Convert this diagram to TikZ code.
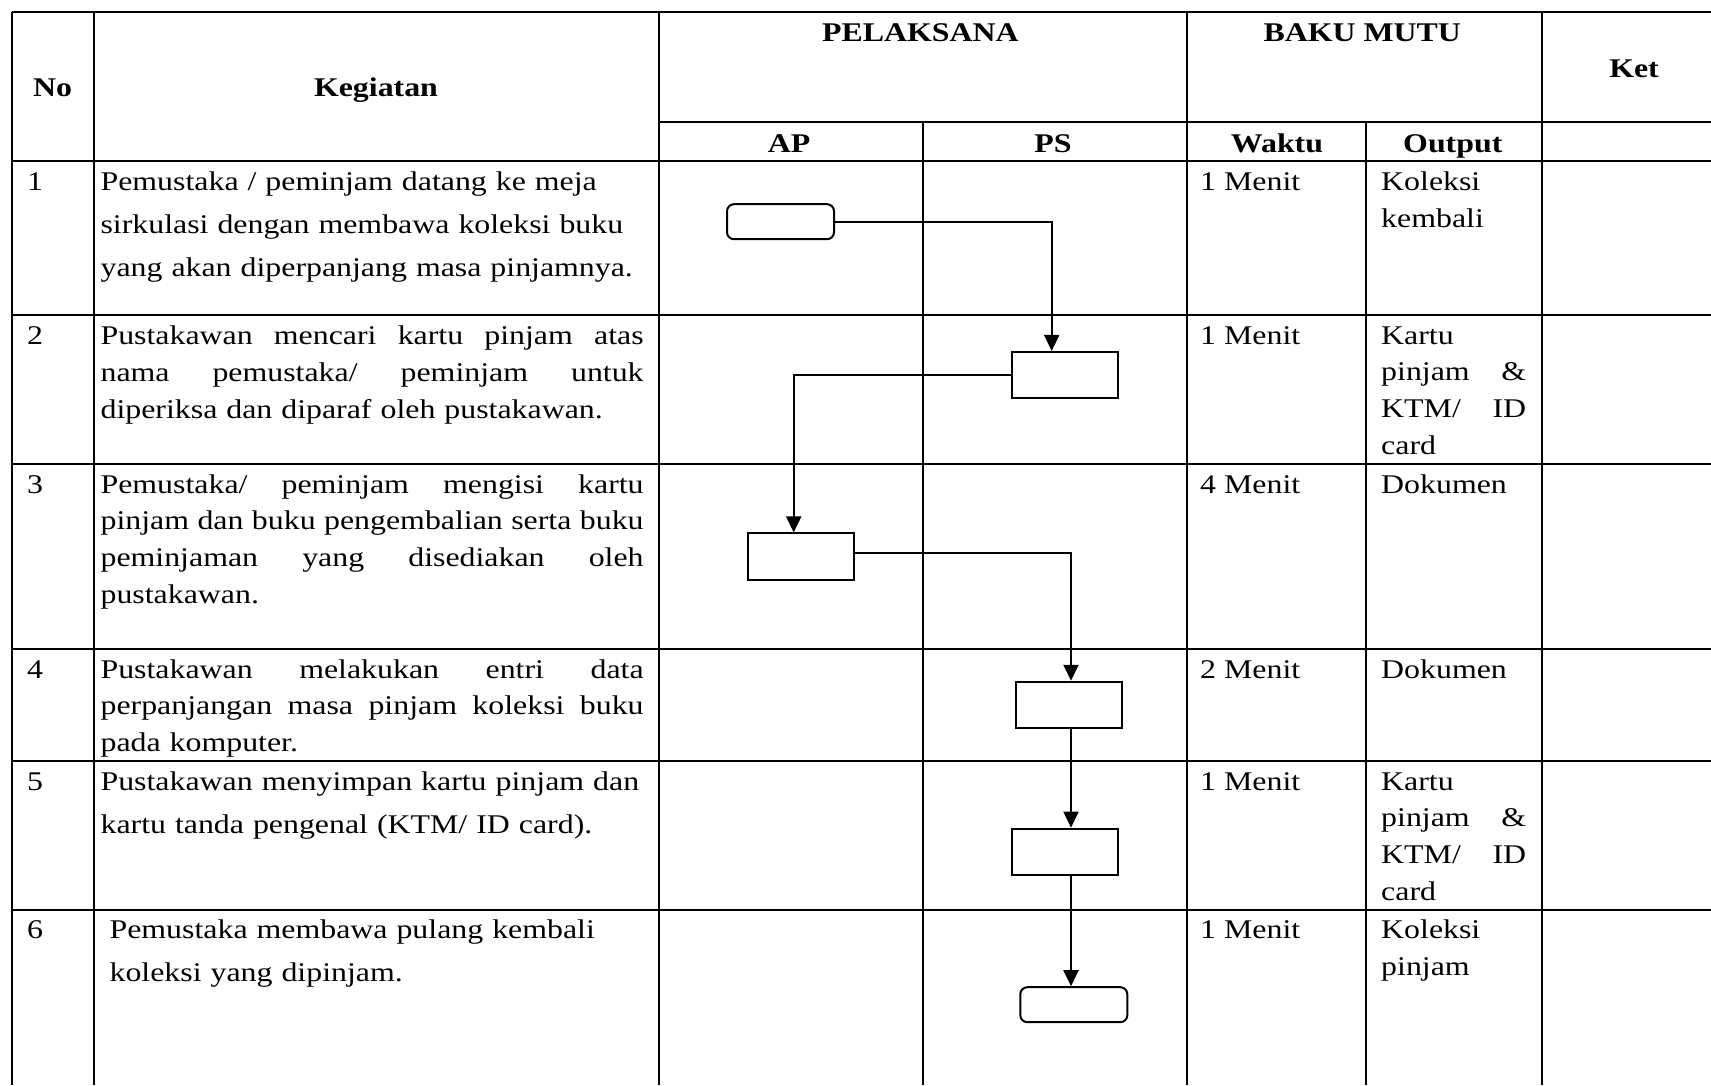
\documentclass[tikz,border=0pt]{standalone}
\usepackage{fontspec}
\setmainfont{Liberation Serif}[FakeStretch=1.18]
\usetikzlibrary{arrows.meta}
\newcommand{\jline}[1]{\leavevmode\hbox to \linewidth{\spaceskip=\fontdimen2\font plus 1fil\relax\xspaceskip=\spaceskip #1}}
\begin{document}
\begin{tikzpicture}[x=1pt,y=-1pt,
  grid/.style={line width=2pt},
  hdr/.style={font=\fontsize{27}{32}\selectfont\bfseries, inner sep=0pt, anchor=base},
  txt/.style={font=\fontsize{27}{#1}\selectfont, inner sep=0pt, anchor=base west, align=left},
  txt/.default=37,
  term/.style={draw, line width=2pt, rounded corners=7pt, minimum width=107pt, minimum height=35pt, inner sep=0pt},
  proc/.style={draw, line width=2pt, minimum width=106pt, minimum height=46.5pt, inner sep=0pt},
  arr/.style={line width=2pt, -{Triangle[width=15pt,length=16pt]}}
]
\useasboundingbox (0,0) rectangle (1711,1085);
\fill[white] (0,0) rectangle (1711,1085);

% ---- table grid ----
\draw[grid] (12,11.7) -- (1711,11.7);
\draw[grid] (659,121.7) -- (1711,121.7);
\foreach \yy in {161,315,464,649,761,909.5}
  \draw[grid] (12,\yy) -- (1711,\yy);
\foreach \xx in {12,93.7,659,1186.5,1541.5}
  \draw[grid] (\xx,11.7) -- (\xx,1085);
\foreach \xx in {923,1365.5}
  \draw[grid] (\xx,121.7) -- (\xx,1085);

% ---- header ----
\node[hdr] (hNo) at (52.5,96.7) {No};
\node[hdr] (hKeg) at (376,96.7) {Kegiatan};
\node[hdr] (hPel) at (920.4,41) {PELAKSANA};
\node[hdr] (hBaku) at (1362.3,41) {BAKU MUTU};
\node[hdr] (hKet) at (1634,77.3) {Ket};
\node[hdr] (hAP) at (789,152.3) {AP};
\node[hdr] (hPS) at (1053,152.3) {PS};
\node[hdr] (hWak) at (1277,152.3) {Waktu};
\node[hdr] (hOut) at (1452.8,152.3) {Output};

% ---- numbers ----
\node[txt] (n1) at (27,190) {1};
\node[txt] (n2) at (27,344) {2};
\node[txt] (n3) at (27,493) {3};
\node[txt] (n4) at (27,678) {4};
\node[txt] (n5) at (27,790) {5};
\node[txt] (n6) at (27,938.5) {6};

% ---- kegiatan ----
\node[txt=43, text width=543pt] (k1) at (100.4,190)
  {Pemustaka / peminjam datang ke meja\\ sirkulasi dengan membawa koleksi buku\\ yang akan diperpanjang masa pinjamnya.};
\node[txt=37, text width=543pt] (k2) at (100.4,344)
  {\jline{Pustakawan mencari kartu pinjam atas}\\ \jline{nama pemustaka/ peminjam untuk}\\ diperiksa dan diparaf oleh pustakawan.};
\node[txt=36.7, text width=543pt] (k3) at (100.4,493)
  {\jline{Pemustaka/ peminjam mengisi kartu}\\ \jline{pinjam dan buku pengembalian serta buku}\\ \jline{peminjaman yang disediakan oleh}\\ pustakawan.};
\node[txt=36.7, text width=543pt] (k4) at (100.4,678)
  {\jline{Pustakawan melakukan entri data}\\ \jline{perpanjangan masa pinjam koleksi buku}\\ pada komputer.};
\node[txt=43.3, text width=543pt] (k5) at (100.4,790)
  {Pustakawan menyimpan kartu pinjam dan\\ kartu tanda pengenal (KTM/ ID card).};
\node[txt=43.3, text width=534pt] (k6) at (109.4,938.5)
  {Pemustaka membawa pulang kembali\\ koleksi yang dipinjam.};

% ---- waktu ----
\node[txt] (w1) at (1200,190) {1 Menit};
\node[txt] (w2) at (1200,344) {1 Menit};
\node[txt] (w3) at (1200,493) {4 Menit};
\node[txt] (w4) at (1200,678) {2 Menit};
\node[txt] (w5) at (1200,790) {1 Menit};
\node[txt] (w6) at (1200,938.5) {1 Menit};

% ---- output ----
\node[txt=37, text width=145pt] (o1) at (1381,190) {Koleksi\\ kembali};
\node[txt=36.7, text width=145pt] (o2) at (1381,344) {Kartu\\ \jline{pinjam \&}\\ \jline{KTM/ ID}\\ card};
\node[txt, text width=145pt] (o3) at (1381,493) {Dokumen};
\node[txt, text width=145pt] (o4) at (1381,678) {Dokumen};
\node[txt=36.7, text width=145pt] (o5) at (1381,790) {Kartu\\ \jline{pinjam \&}\\ \jline{KTM/ ID}\\ card};
\node[txt=36.7, text width=145pt] (o6) at (1381,938.5) {Koleksi\\ pinjam};

% ---- flow ----
\node[term] (start) at (780.5,221.7) {};
\node[proc] (b2) at (1065,375.2) {};
\node[proc] (b3) at (800.5,556.7) {};
\node[proc] (b4) at (1069.3,705) {};
\node[proc] (b5) at (1065,851.9) {};
\node[term] (finish) at (1073.8,1004.7) {};

\draw[arr] (start.east) -| ([xshift=-13.3pt]b2.north);
\draw[arr] (b2.west) -| ([xshift=-6.8pt]b3.north);
\draw[arr] ([yshift=3.4pt]b3.east) -| ([xshift=1.7pt]b4.north);
\draw[arr] ([xshift=1.7pt]b4.south) -- ([xshift=6pt]b5.north);
\draw[arr] ([xshift=6pt]b5.south) -- ([xshift=-2.8pt]finish.north);
\end{tikzpicture}
\end{document}
